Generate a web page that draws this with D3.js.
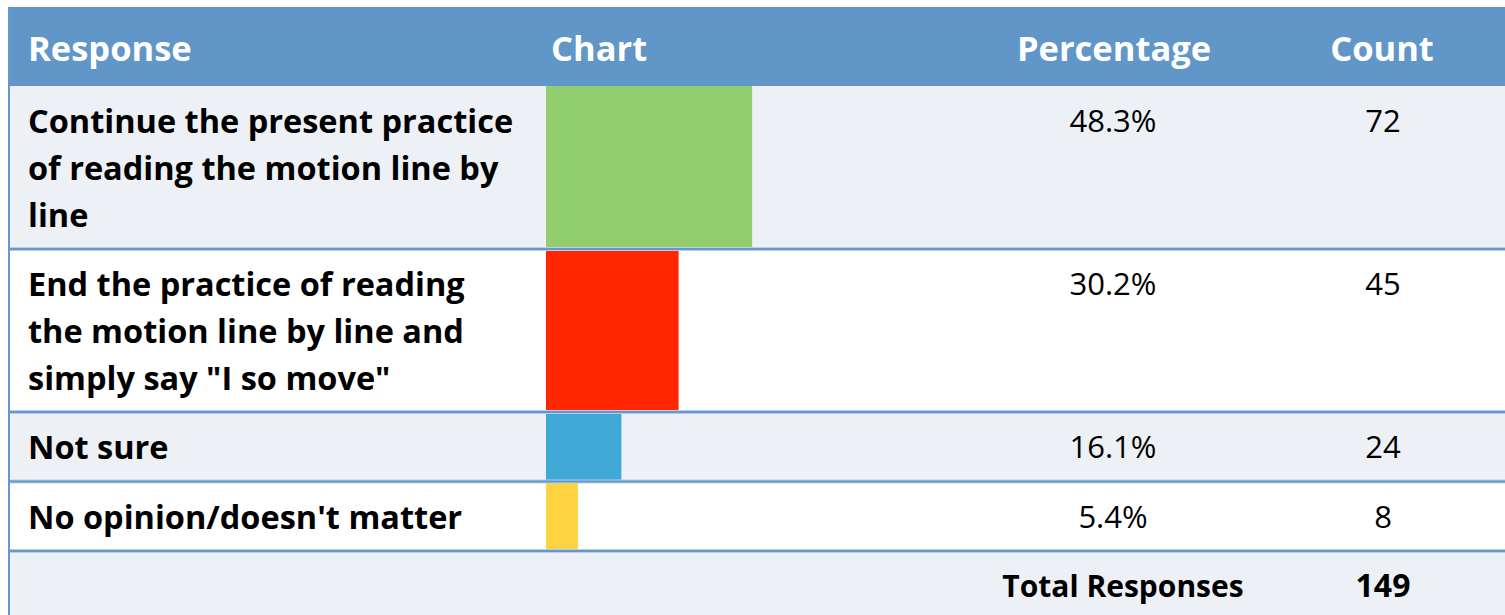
<!DOCTYPE html>
<html>
<head>
<meta charset="utf-8">
<script src="https://cdnjs.cloudflare.com/ajax/libs/d3/7.8.5/d3.min.js"></script>
<style>
  body { margin: 0; background: #fff; }
  svg { display: block; font-family: "Open Sans", sans-serif; }
</style>
</head>
<body>
<svg id="svgTable" width="1505" height="615"></svg>
<script>
// survey results
let responseLines = [
    ['Continue the present practice', 'of reading the motion line by', 'line'],
    ['End the practice of reading', 'the motion line by line and', 'simply say "I so move"'],
    ['Not sure'],
    ["No opinion/doesn't matter"]
];
let percentages = [48.3, 30.2, 16.1, 5.4];
let counts = [72, 45, 24, 8];
let totalResponses = 149;
let barColors = ['#92ce6e', '#ff2600', '#3fa8d6', '#ffd33f'];
let headers = ['Response', 'Chart', 'Percentage', 'Count'];

function init() {
    let svg = d3.select('#svgTable');
    let left = 8;
    let width = 1505;
    let headTop = 7;
    let headBottom = 86;
    let lineH = 46.75;
    let pad = 22.75;
    let chartX = 546;
    let pctX = 1113;
    let countX = 1383;
    let headerBlue = '#6196c9';
    let lightRow = '#edf0f5';

    // row geometry from number of wrapped lines
    let heights = responseLines.map(l => pad + l.length * lineH);
    let tops = [headBottom];
    heights.forEach((h, i) => tops.push(tops[i] + h));
    let totalTop = tops[tops.length - 1];

    let barScale = d3.scaleLinear().domain([0, 100]).range([10, 416]);

    // header band
    svg.append('rect')
        .attr('x', left)
        .attr('y', headTop)
        .attr('width', width - left)
        .attr('height', headBottom - headTop)
        .style('fill', headerBlue);
    let headerX = [28, 551, 1114, 1382];
    let headerAnchor = ['start', 'start', 'middle', 'middle'];
    svg.append('g').selectAll('text').data(headers).join('text')
        .attr('x', (d, i) => headerX[i])
        .attr('y', 61)
        .attr('text-anchor', (d, i) => headerAnchor[i])
        .style('fill', '#fff')
        .style('font-weight', 'bold')
        .style('font-size', '34.5px')
        .text(d => d);

    // row backgrounds
    let rows = svg.append('g').selectAll('g').data(responseLines).join('g')
        .attr('transform', (d, i) => `translate(0, ${tops[i]})`);
    rows.append('rect')
        .attr('x', left)
        .attr('width', width - left)
        .attr('height', (d, i) => heights[i])
        .style('fill', (d, i) => i % 2 === 0 ? lightRow : '#fff');

    // bars
    rows.append('rect')
        .attr('x', chartX)
        .attr('width', (d, i) => barScale(percentages[i]))
        .attr('height', (d, i) => heights[i])
        .style('fill', (d, i) => barColors[i]);

    // response labels
    rows.append('g').selectAll('text').data(d => d).join('text')
        .attr('x', 28)
        .attr('y', (d, j) => 47 + j * lineH)
        .style('font-weight', 'bold')
        .style('font-size', '32.5px')
        .style('fill', '#000')
        .text(d => d);

    rows.append('text')
        .attr('x', pctX)
        .attr('y', 46)
        .attr('text-anchor', 'middle')
        .style('font-size', '31px')
        .text((d, i) => percentages[i].toFixed(1) + '%');
    rows.append('text')
        .attr('x', countX)
        .attr('y', 46)
        .attr('text-anchor', 'middle')
        .style('font-size', '31px')
        .text((d, i) => counts[i]);

    // total row
    svg.append('rect')
        .attr('x', left)
        .attr('y', totalTop)
        .attr('width', width - left)
        .attr('height', 615 - totalTop)
        .style('fill', lightRow);
    svg.append('text')
        .attr('x', 1123)
        .attr('y', 597)
        .attr('text-anchor', 'middle')
        .style('font-weight', 'bold')
        .style('font-size', '30px')
        .text('Total Responses');
    svg.append('text')
        .attr('x', countX)
        .attr('y', 597)
        .attr('text-anchor', 'middle')
        .style('font-weight', 'bold')
        .style('font-size', '32px')
        .text(totalResponses);

    // row separators
    let seps = tops.slice(1);
    svg.append('g').selectAll('line').data(seps).join('line')
        .attr('x1', left).attr('x2', width)
        .attr('y1', d => d).attr('y2', d => d)
        .style('stroke', '#b9cfe7')
        .style('stroke-width', 4);
    svg.append('g').selectAll('line').data(seps).join('line')
        .attr('x1', left).attr('x2', width)
        .attr('y1', d => d).attr('y2', d => d)
        .style('stroke', '#6498cd')
        .style('stroke-width', 2);

    // left border
    svg.append('line')
        .attr('x1', left + 1).attr('x2', left + 1)
        .attr('y1', headTop).attr('y2', 615)
        .style('stroke', '#6498cd')
        .style('stroke-width', 2);
}

init();
</script>
</body>
</html>
